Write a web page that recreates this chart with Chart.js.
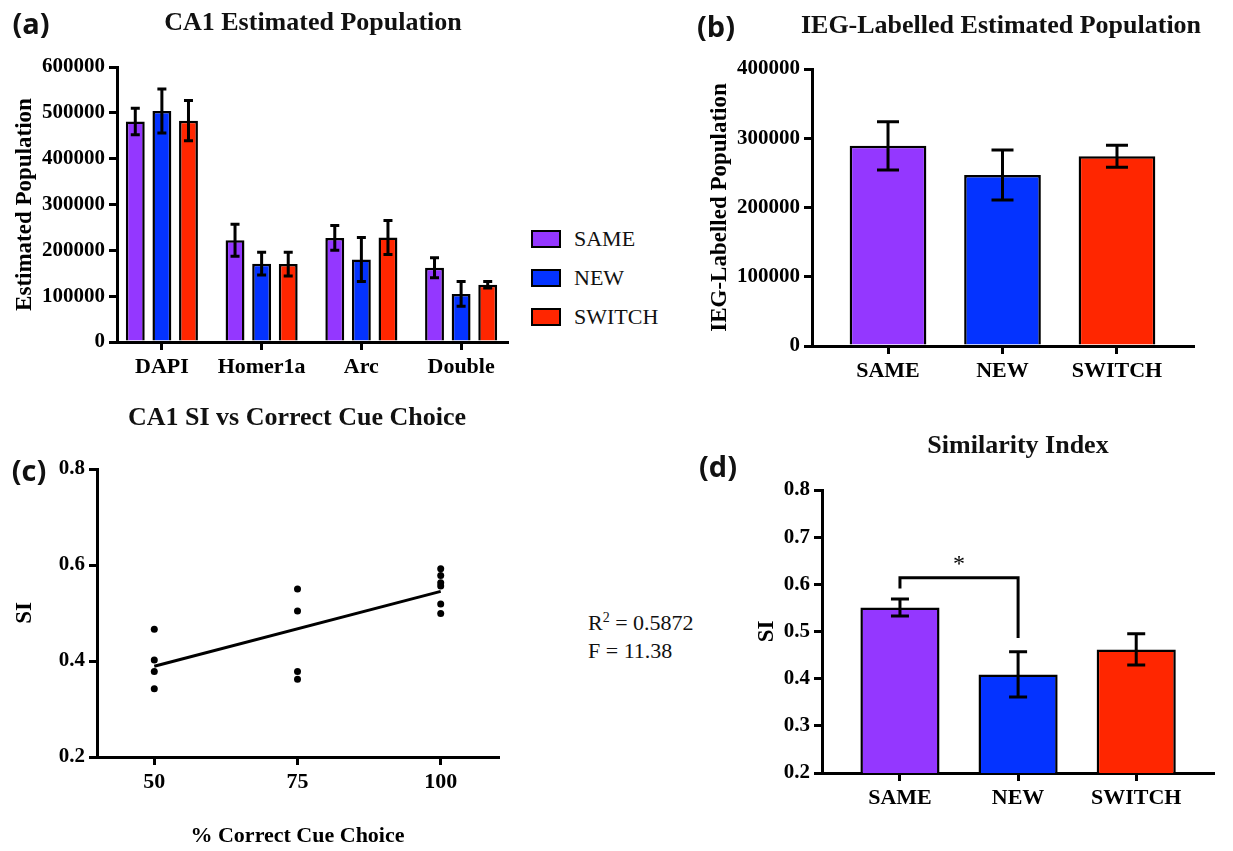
<!DOCTYPE html>
<html>
<head>
<meta charset="utf-8">
<script src="https://cdn.jsdelivr.net/npm/chart.js@4.4.1/dist/chart.umd.min.js"></script>
<style>
  body { margin: 0; width: 1233px; height: 851px; background: #fff; position: relative; overflow: hidden;
         font-family: "Liberation Serif", serif; color: #111; }
  canvas { position: absolute; }
  .lbl { position: absolute; transform: translate(-50%, -50%); white-space: nowrap; }
  .left { position: absolute; transform: translate(0, -50%); white-space: nowrap; }
  .panel { font-family: "Open Sans", sans-serif; font-weight: 700; font-size: 29px; }
  .title { font-weight: 700; font-size: 26px; }
  .note { font-size: 22px; }
  .key { position: absolute; width: 26px; height: 14px; border: 2px solid #000; }
</style>
</head>
<body>
<canvas id="chartA" width="520" height="380" style="left:0;top:40px"></canvas>
<canvas id="chartB" width="530" height="380" style="left:690px;top:40px"></canvas>
<canvas id="chartC" width="540" height="411" style="left:0;top:440px"></canvas>
<canvas id="chartD" width="530" height="401" style="left:700px;top:450px"></canvas>

<div class="lbl panel" style="left:31px;top:22px">(a)</div>
<div class="lbl panel" style="left:716px;top:25px">(b)</div>
<div class="lbl panel" style="left:29px;top:469px">(c)</div>
<div class="lbl panel" style="left:718px;top:465px">(d)</div>

<div class="lbl title" style="left:313px;top:22px">CA1 Estimated Population</div>
<div class="lbl title" style="left:1001px;top:25px">IEG-Labelled Estimated Population</div>
<div class="lbl title" style="left:297px;top:417px">CA1 SI vs Correct Cue Choice</div>
<div class="lbl title" style="left:1018px;top:445px">Similarity Index</div>

<div class="left note" style="left:588px;top:623px">R<sup style="font-size:14px">2</sup> = 0.5872</div>
<div class="left note" style="left:588px;top:651px">F = 11.38</div>

<div id="legendA"></div>

<script>
// (a) CA1 estimated population, grouped by marker
const groupLabels = ["DAPI", "Homer1a", "Arc", "Double"];
const seriesNames = ["SAME", "NEW", "SWITCH"];
const sameCounts = [481000, 222000, 227000, 162000];
const sameErr = [29000, 35000, 27000, 22000];
const newCounts = [504000, 171000, 180000, 105000];
const newErr = [48000, 25000, 48000, 27000];
const switchCounts = [483000, 170000, 228000, 125000];
const switchErr = [44000, 26000, 37000, 7000];
const popTicks = [0, 100000, 200000, 300000, 400000, 500000, 600000];

// (b) IEG-labelled population
const condLabels = ["SAME", "NEW", "SWITCH"];
const iegValues = [289000, 247000, 274000];
const iegErr = [35000, 36000, 16000];
const iegTicks = [0, 100000, 200000, 300000, 400000];

// (c) SI vs % correct cue choice
const cueX = [50, 50, 50, 50, 75, 75, 75, 75, 100, 100, 100, 100, 100, 100];
const cueSI = [0.466, 0.402, 0.378, 0.342, 0.550, 0.504, 0.378, 0.362, 0.592, 0.578, 0.563, 0.556, 0.519, 0.499];
const fitX = [50, 100];
const fitSI = [0.389, 0.545];
const cueTicks = [50, 75, 100];
const siTicksC = [0.2, 0.4, 0.6, 0.8];

// (d) similarity index
const siValues = [0.551, 0.409, 0.462];
const siErr = [0.018, 0.048, 0.033];
const siTicksD = [0.2, 0.3, 0.4, 0.5, 0.6, 0.7, 0.8];
const sigPair = [0, 1];
const sigTop = 0.614;
const sigFeet = [0.591, 0.486];

const COLORS = ["#9437ff", "#0433ff", "#ff2600"];
const SERIF = "'Liberation Serif', serif";

// legend for (a)
const legendA = document.getElementById("legendA");
seriesNames.forEach((name, i) => {
  const top = 230 + i * 39;
  legendA.insertAdjacentHTML("beforeend",
    `<div class="key" style="left:531px;top:${top}px;background:${COLORS[i]}"></div>` +
    `<div class="left note" style="left:574px;top:${top + 9}px">${name}</div>`);
});

const toPoints = arr => arr.map((v, i) => ({ x: i, y: v }));
const toXY = (xs, ys) => xs.map((x, i) => ({ x, y: ys[i] }));

const errorBars = {
  id: "errorBars",
  afterDatasetsDraw(chart, args, opts) {
    const ctx = chart.ctx, y = chart.scales.y;
    chart.data.datasets.forEach((ds, i) => {
      if (!ds.errors) return;
      chart.getDatasetMeta(i).data.forEach((bar, j) => {
        const v = ds.data[j].y, e = ds.errors[j];
        const top = y.getPixelForValue(v + e), bot = y.getPixelForValue(v - e);
        const h = opts.cap / 2;
        ctx.save();
        ctx.strokeStyle = "#000";
        ctx.lineWidth = opts.width;
        ctx.beginPath();
        ctx.moveTo(bar.x, top); ctx.lineTo(bar.x, bot);
        ctx.moveTo(bar.x - h, top); ctx.lineTo(bar.x + h, top);
        ctx.moveTo(bar.x - h, bot); ctx.lineTo(bar.x + h, bot);
        ctx.stroke();
        ctx.restore();
      });
    });
  }
};

const sigBracket = {
  id: "sigBracket",
  afterDatasetsDraw(chart) {
    const ctx = chart.ctx, x = chart.scales.x, y = chart.scales.y;
    const x0 = x.getPixelForValue(sigPair[0]), x1 = x.getPixelForValue(sigPair[1]);
    const yt = y.getPixelForValue(sigTop);
    ctx.save();
    ctx.strokeStyle = "#000";
    ctx.lineWidth = 3;
    ctx.beginPath();
    ctx.moveTo(x0, y.getPixelForValue(sigFeet[0]));
    ctx.lineTo(x0, yt);
    ctx.lineTo(x1, yt);
    ctx.lineTo(x1, y.getPixelForValue(sigFeet[1]));
    ctx.stroke();
    ctx.fillStyle = "#000";
    ctx.font = "24px " + SERIF;
    ctx.textAlign = "center";
    ctx.textBaseline = "middle";
    ctx.fillText("*", (x0 + x1) / 2, yt - 13);
    ctx.restore();
  }
};

const axisLines = {
  border: { color: "#000", width: 3 },
  grid: { drawOnChartArea: false, drawTicks: true, tickLength: 8, tickWidth: 3,
          tickColor: "#000", color: "#000", lineWidth: 3, offset: false }
};

function yAxis(min, max, ticks, width, text, pad, fmt) {
  return {
    type: "linear", min, max, z: 1, ...axisLines,
    afterFit: s => { s.width = width; },
    afterBuildTicks: s => { s.ticks = ticks.map(v => ({ value: v })); },
    ticks: { color: "#000", padding: 4, font: { family: SERIF, size: 21, weight: "bold" }, callback: fmt },
    title: { display: true, text, color: "#000", font: { family: SERIF, size: 23, weight: "bold" },
             padding: { top: pad, bottom: 0 } }
  };
}

function xAxis(min, max, ticks, height, fmt, title) {
  const axis = {
    type: "linear", min, max, z: 1, offset: false, ...axisLines,
    afterFit: s => { s.height = height; },
    afterBuildTicks: s => { s.ticks = ticks.map(v => ({ value: v })); },
    ticks: { color: "#000", padding: 4, maxRotation: 0, minRotation: 0, autoSkip: false,
             font: { family: SERIF, size: 22, weight: "bold" }, callback: fmt }
  };
  if (title) axis.title = title;
  return axis;
}

const base = { responsive: false, animation: false, events: [],
               plugins: { legend: { display: false }, tooltip: { enabled: false } } };

// (a)
new Chart(document.getElementById("chartA"), {
  type: "bar",
  data: {
    datasets: [sameCounts, newCounts, switchCounts].map((vals, i) => ({
      label: seriesNames[i],
      data: toPoints(vals),
      errors: [sameErr, newErr, switchErr][i],
      backgroundColor: COLORS[i]
    }))
  },
  options: {
    ...base,
    layout: { padding: { top: 27, right: 13, left: 0, bottom: 0 } },
    datasets: { bar: { borderColor: "#000", borderWidth: 2.5, categoryPercentage: 0.8, barPercentage: 0.71 } },
    plugins: { ...base.plugins, errorBars: { width: 3, cap: 9 } },
    scales: {
      x: xAxis(-0.45, 3.46, [0, 1, 2, 3], 78, v => groupLabels[v]),
      y: yAxis(0, 600000, popTicks, 117, "Estimated Population", 11, v => v)
    }
  },
  plugins: [errorBars]
});

// (b)
new Chart(document.getElementById("chartB"), {
  type: "bar",
  data: { datasets: [{ data: toPoints(iegValues), errors: iegErr, backgroundColor: COLORS }] },
  options: {
    ...base,
    layout: { padding: { top: 29, right: 27, left: 0, bottom: 0 } },
    datasets: { bar: { borderColor: "#000", borderWidth: 2.5, categoryPercentage: 1, barPercentage: 0.67 } },
    plugins: { ...base.plugins, errorBars: { width: 3, cap: 22 } },
    scales: {
      x: xAxis(-0.664, 2.664, [0, 1, 2], 74, v => condLabels[v]),
      y: yAxis(0, 400000, iegTicks, 122, "IEG-Labelled Population", 16, v => v)
    }
  },
  plugins: [errorBars]
});

// (c)
new Chart(document.getElementById("chartC"), {
  type: "scatter",
  data: {
    datasets: [
      { data: toXY(cueX, cueSI), backgroundColor: "#000", borderWidth: 0, pointRadius: 3.5 },
      { data: toXY(fitX, fitSI), showLine: true, borderColor: "#000", borderWidth: 3, pointRadius: 0 }
    ]
  },
  options: {
    ...base,
    layout: { padding: { top: 29, right: 42, left: 0, bottom: 0 } },
    scales: {
      x: xAxis(40, 110, cueTicks, 94, v => v, {
        display: true, text: "% Correct Cue Choice", color: "#000",
        font: { family: SERIF, size: 22, weight: "bold" }, padding: { top: 0, bottom: 1 }
      }),
      y: yAxis(0.2, 0.8, siTicksC, 97, "SI", 11, v => v.toFixed(1))
    }
  }
});

// (d)
new Chart(document.getElementById("chartD"), {
  type: "bar",
  data: { datasets: [{ data: toPoints(siValues), errors: siErr, backgroundColor: COLORS }] },
  options: {
    ...base,
    layout: { padding: { top: 40, right: 17, left: 0, bottom: 0 } },
    datasets: { bar: { borderColor: "#000", borderWidth: 2.5, categoryPercentage: 1, barPercentage: 0.67 } },
    plugins: { ...base.plugins, errorBars: { width: 3, cap: 18 } },
    scales: {
      x: xAxis(-0.66, 2.65, [0, 1, 2], 78, v => condLabels[v]),
      y: yAxis(0.2, 0.8, siTicksD, 122, "SI", 53, v => v.toFixed(1))
    }
  },
  plugins: [errorBars, sigBracket]
});
</script>
</body>
</html>
